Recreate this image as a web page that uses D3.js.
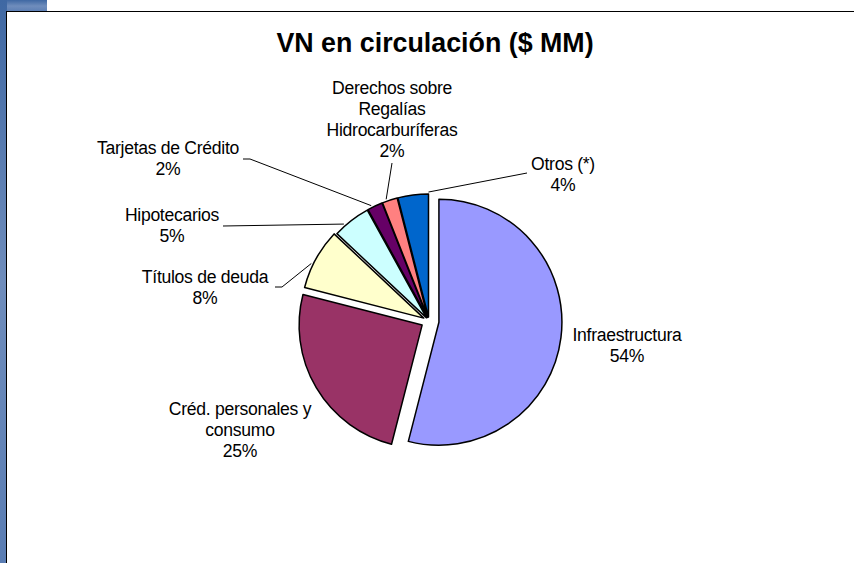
<!DOCTYPE html>
<html>
<head>
<meta charset="utf-8">
<script src="https://cdn.jsdelivr.net/npm/d3@7"></script>
<style>
  body { margin: 0; background: #fff; }
  svg text { font-family: Arial, "Liberation Sans", sans-serif; fill: #000; }
</style>
</head>
<body>
<div id="chart"></div>
<script>
// data
const categories = [
  "Infraestructura",
  "Créd. personales y consumo",
  "Títulos de deuda",
  "Hipotecarios",
  "Tarjetas de Crédito",
  "Derechos sobre Regalías Hidrocarburíferas",
  "Otros (*)"
];
const shares = [54, 25, 8, 5, 2, 2, 4];
const colors = ["#9999FF", "#993366", "#FFFFCC", "#CCFFFF", "#660066", "#FF8080", "#0066CC"];
const labelLines = [
  ["Infraestructura"],
  ["Créd. personales y", "consumo"],
  ["Títulos de deuda"],
  ["Hipotecarios"],
  ["Tarjetas de Crédito"],
  ["Derechos sobre", "Regalías", "Hidrocarburíferas"],
  ["Otros (*)"]
];

// layout
const width = 854, height = 563;
const center = { x: 429, y: 321 };
const radius = 123;
const lineHeight = 21;
const explode = [10, 8, 6, 4, 4, 4, 4];
// label centre x, first baseline y, leader: null | { from, bend, at (fraction along slice) }
const labelPos = [
  { x: 627, y: 341, leader: null },
  { x: 240, y: 415, leader: null },
  { x: 205, y: 283, leader: { from: [275, 287], bend: 7, at: 0.4 } },
  { x: 172, y: 221, leader: { from: [223, 226], bend: 0, at: 0.3 } },
  { x: 168, y: 154, leader: { from: [243, 159], bend: 7, at: 0.3 } },
  { x: 392, y: 94, leader: { from: [392, 163], bend: 0, at: 0.3 } },
  { x: 563, y: 170, leader: { from: [527, 173], bend: 0, at: 1 } }
];

const data = categories.map((c, i) => ({ name: c, value: shares[i], i: i }));

const svg = d3.select("#chart")
  .append("svg")
  .attr("width", width)
  .attr("height", height);

// slide background frame
const grad = svg.append("defs").append("linearGradient")
  .attr("id", "bg")
  .attr("x1", "0%").attr("x2", "0%").attr("y1", "0%").attr("y2", "100%");
grad.append("stop").attr("offset", "0%").attr("stop-color", "#3f68a3");
grad.append("stop").attr("offset", "50%").attr("stop-color", "#6f8dbc");
grad.append("stop").attr("offset", "100%").attr("stop-color", "#5a7db3");

svg.append("rect").attr("x", 0).attr("y", 0).attr("width", 47).attr("height", 12).attr("fill", "url(#bg)");
svg.append("rect").attr("x", 0).attr("y", 0).attr("width", 7).attr("height", height).attr("fill", "url(#bg)");

// chart area
svg.append("rect")
  .attr("x", 6.5).attr("y", 11.5)
  .attr("width", width + 10).attr("height", height + 10)
  .attr("fill", "#fff")
  .attr("stroke", "#000")
  .attr("stroke-width", 1);

// title
svg.append("text")
  .attr("x", 435)
  .attr("y", 52)
  .attr("text-anchor", "middle")
  .attr("font-size", 26.8)
  .attr("font-weight", "bold")
  .text("VN en circulación ($ MM)");

// pie
const pie = d3.pie().sort(null).value(d => d.value);
const arcs = pie(data);
const arc = d3.arc().innerRadius(0).outerRadius(radius);

function offset(d) {
  let mid = (d.startAngle + d.endAngle) / 2;
  let e = explode[d.data.i];
  return [center.x + e * Math.sin(mid), center.y - e * Math.cos(mid)];
}

let slices = svg.append("g").attr("class", "slices");
slices.selectAll("path")
  .data(arcs)
  .enter()
  .append("path")
  .attr("d", arc)
  .attr("transform", d => `translate(${offset(d)})`)
  .attr("fill", d => colors[d.data.i])
  .attr("stroke", "#000")
  .attr("stroke-width", 1.5)
  .attr("stroke-linejoin", "round");

// leader lines
let leaders = svg.append("g").attr("class", "leaders");
arcs.forEach(d => {
  let lp = labelPos[d.data.i];
  if (!lp.leader) return;
  let o = offset(d);
  let a = d.startAngle + lp.leader.at * (d.endAngle - d.startAngle);
  let end = [o[0] + (radius + 2) * Math.sin(a), o[1] - (radius + 2) * Math.cos(a)];
  let start = lp.leader.from;
  let pts = [start];
  if (lp.leader.bend) pts.push([start[0] + lp.leader.bend, start[1]]);
  pts.push(end);
  leaders.append("path")
    .attr("d", d3.line()(pts))
    .attr("fill", "none")
    .attr("stroke", "#000")
    .attr("stroke-width", 1);
});

// labels
let labels = svg.append("g").attr("class", "labels");
arcs.forEach(d => {
  let lp = labelPos[d.data.i];
  let lines = labelLines[d.data.i].concat([d3.format(".0f")(d.data.value) + "%"]);
  let t = labels.append("text")
    .attr("text-anchor", "middle")
    .attr("font-size", 17.6)
    .attr("letter-spacing", -0.3);
  lines.forEach((l, k) => {
    t.append("tspan")
      .attr("x", lp.x)
      .attr("y", lp.y + k * lineHeight)
      .text(l);
  });
});
</script>
</body>
</html>
